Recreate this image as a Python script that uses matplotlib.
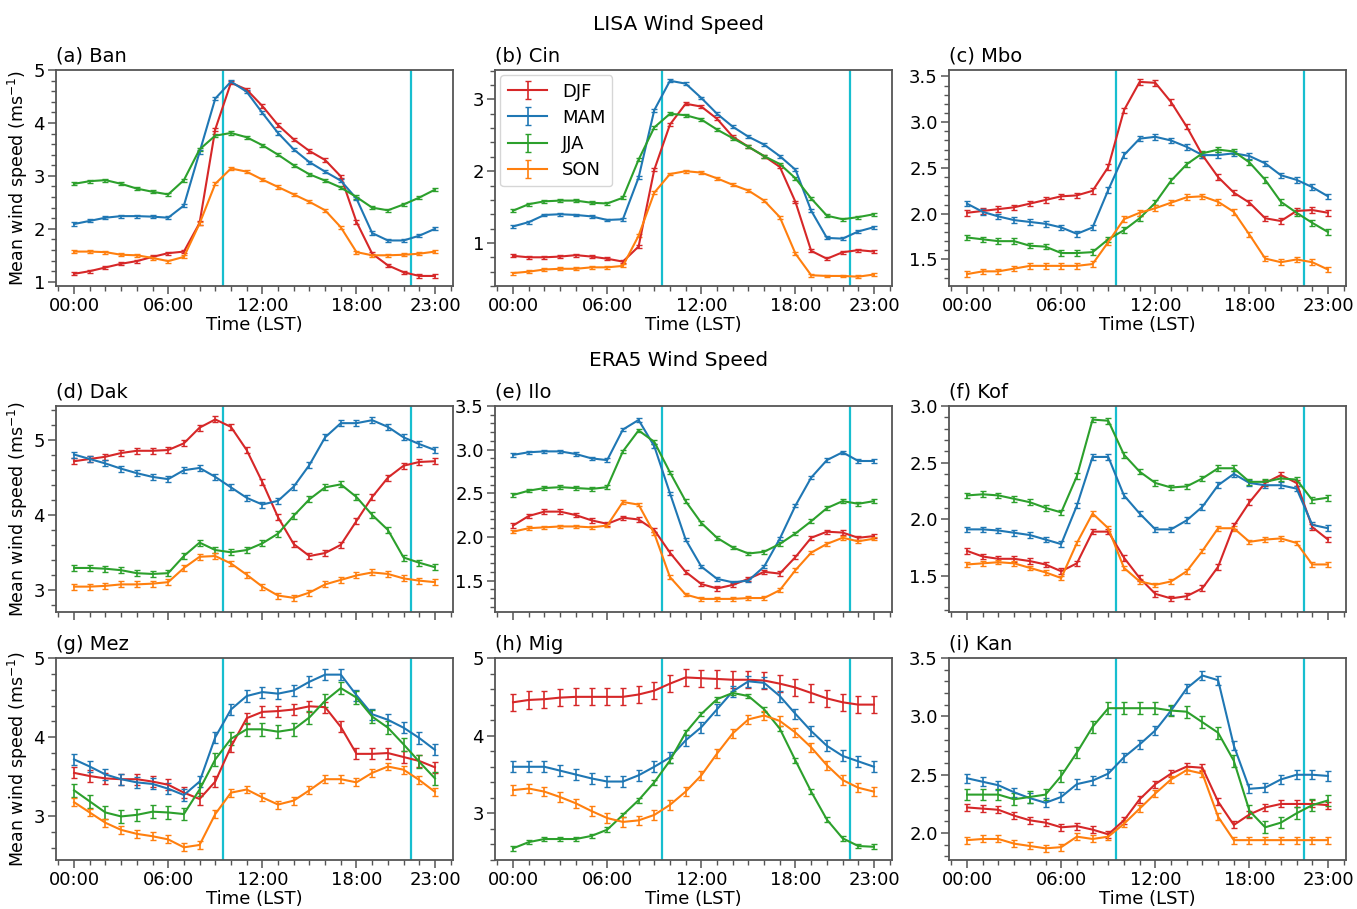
import matplotlib
matplotlib.use('agg')
import matplotlib.pyplot as plt
from matplotlib.ticker import AutoMinorLocator, FixedLocator, MultipleLocator

hours = list(range(24))
hour_ticks = [0, 6, 12, 18, 23]
hour_labels = ['00:00', '06:00', '12:00', '18:00', '23:00']
seasons = ['DJF', 'MAM', 'JJA', 'SON']
colors = ['#d62728', '#1f77b4', '#2ca02c', '#ff7f0e']
day_marks = [9.5, 21.5]

# (a) Ban - LISA
ban_djf = [1.15, 1.20, 1.27, 1.34, 1.39, 1.47, 1.54, 1.57, 2.11, 3.88, 4.76, 4.63,
           4.32, 3.96, 3.69, 3.47, 3.30, 2.99, 2.13, 1.53, 1.31, 1.18, 1.11, 1.11]
ban_mam = [2.09, 2.15, 2.21, 2.24, 2.24, 2.23, 2.21, 2.44, 3.45, 4.46, 4.78, 4.59,
           4.19, 3.81, 3.50, 3.26, 3.08, 2.91, 2.57, 1.92, 1.78, 1.78, 1.87, 2.00]
ban_jja = [2.85, 2.90, 2.92, 2.85, 2.76, 2.70, 2.65, 2.92, 3.50, 3.76, 3.81, 3.73,
           3.58, 3.40, 3.20, 3.03, 2.91, 2.78, 2.60, 2.40, 2.35, 2.46, 2.59, 2.74]
ban_son = [1.57, 1.57, 1.56, 1.51, 1.50, 1.45, 1.39, 1.47, 2.10, 2.85, 3.14, 3.08,
           2.93, 2.79, 2.65, 2.51, 2.35, 2.03, 1.56, 1.50, 1.50, 1.51, 1.53, 1.57]
ban_err = [0.03, 0.03, 0.03, 0.03]

# (b) Cin - LISA
cin_djf = [0.82, 0.80, 0.80, 0.81, 0.83, 0.81, 0.78, 0.74, 0.95, 2.02, 2.65, 2.94,
           2.90, 2.73, 2.48, 2.34, 2.21, 2.06, 1.57, 0.89, 0.78, 0.87, 0.90, 0.88]
cin_mam = [1.23, 1.29, 1.39, 1.40, 1.39, 1.37, 1.32, 1.33, 1.91, 2.85, 3.26, 3.22,
           3.02, 2.80, 2.62, 2.48, 2.37, 2.21, 2.02, 1.45, 1.07, 1.06, 1.16, 1.22]
cin_jja = [1.45, 1.54, 1.58, 1.59, 1.59, 1.56, 1.55, 1.63, 2.16, 2.61, 2.80, 2.78,
           2.72, 2.58, 2.46, 2.34, 2.21, 2.10, 1.90, 1.62, 1.38, 1.33, 1.36, 1.40]
cin_son = [0.58, 0.60, 0.63, 0.64, 0.64, 0.66, 0.66, 0.68, 1.10, 1.70, 1.96, 2.00,
           1.98, 1.90, 1.81, 1.73, 1.59, 1.36, 0.85, 0.55, 0.54, 0.54, 0.53, 0.56]
cin_err = [0.02, 0.02, 0.02, 0.02]

# (c) Mbo - LISA
mbo_djf = [2.01, 2.03, 2.05, 2.07, 2.11, 2.15, 2.19, 2.20, 2.25, 2.51, 3.13, 3.44,
           3.43, 3.22, 2.95, 2.64, 2.40, 2.23, 2.12, 1.95, 1.92, 2.03, 2.04, 2.01]
mbo_mam = [2.11, 2.02, 1.97, 1.93, 1.91, 1.89, 1.85, 1.78, 1.85, 2.26, 2.64, 2.82,
           2.84, 2.80, 2.73, 2.64, 2.64, 2.66, 2.63, 2.55, 2.42, 2.37, 2.29, 2.19]
mbo_jja = [1.74, 1.72, 1.70, 1.70, 1.65, 1.64, 1.57, 1.57, 1.58, 1.72, 1.82, 1.95,
           2.12, 2.36, 2.54, 2.66, 2.70, 2.68, 2.56, 2.37, 2.13, 2.01, 1.90, 1.80]
mbo_son = [1.34, 1.37, 1.37, 1.40, 1.43, 1.43, 1.43, 1.43, 1.45, 1.69, 1.94, 2.01,
           2.06, 2.12, 2.18, 2.19, 2.13, 2.02, 1.77, 1.51, 1.47, 1.50, 1.47, 1.39]
mbo_err = [0.03, 0.03, 0.03, 0.03]

# (d) Dak - ERA5
dak_djf = [4.72, 4.75, 4.78, 4.83, 4.86, 4.86, 4.87, 4.96, 5.17, 5.28, 5.18, 4.87,
           4.44, 3.97, 3.61, 3.45, 3.49, 3.60, 3.92, 4.24, 4.50, 4.66, 4.71, 4.72]
dak_mam = [4.81, 4.75, 4.69, 4.62, 4.56, 4.51, 4.48, 4.60, 4.63, 4.51, 4.37, 4.23,
           4.14, 4.19, 4.38, 4.67, 5.04, 5.23, 5.23, 5.27, 5.18, 5.04, 4.95, 4.87]
dak_jja = [3.29, 3.29, 3.28, 3.26, 3.22, 3.21, 3.22, 3.45, 3.63, 3.53, 3.50, 3.53,
           3.62, 3.75, 3.99, 4.21, 4.37, 4.41, 4.24, 4.00, 3.80, 3.43, 3.36, 3.30]
dak_son = [3.04, 3.04, 3.05, 3.07, 3.07, 3.08, 3.10, 3.29, 3.44, 3.45, 3.35, 3.20,
           3.04, 2.92, 2.89, 2.96, 3.07, 3.13, 3.19, 3.23, 3.21, 3.15, 3.12, 3.10]
dak_err = [0.04, 0.04, 0.04, 0.04]

# (e) Ilo - ERA5
ilo_djf = [2.13, 2.24, 2.29, 2.29, 2.25, 2.19, 2.15, 2.22, 2.20, 2.08, 1.82, 1.60,
           1.46, 1.41, 1.45, 1.52, 1.60, 1.58, 1.77, 1.99, 2.06, 2.05, 1.99, 2.01]
ilo_mam = [2.94, 2.97, 2.98, 2.98, 2.95, 2.90, 2.88, 3.23, 3.34, 3.04, 2.50, 1.97,
           1.66, 1.52, 1.48, 1.50, 1.66, 1.98, 2.36, 2.68, 2.88, 2.97, 2.87, 2.87]
ilo_jja = [2.48, 2.53, 2.56, 2.57, 2.56, 2.55, 2.57, 2.98, 3.22, 3.09, 2.74, 2.41,
           2.16, 1.99, 1.88, 1.81, 1.83, 1.92, 2.04, 2.18, 2.33, 2.41, 2.38, 2.41]
ilo_son = [2.06, 2.10, 2.11, 2.12, 2.12, 2.11, 2.13, 2.40, 2.37, 2.04, 1.54, 1.34,
           1.29, 1.29, 1.29, 1.30, 1.30, 1.39, 1.62, 1.82, 1.92, 1.99, 1.95, 1.98]
ilo_err = [0.025, 0.02, 0.02, 0.02]

# (f) Kof - ERA5
kof_djf = [1.72, 1.67, 1.65, 1.65, 1.63, 1.60, 1.54, 1.61, 1.89, 1.89, 1.66, 1.48,
           1.34, 1.30, 1.32, 1.39, 1.58, 1.94, 2.15, 2.32, 2.39, 2.32, 1.93, 1.82]
kof_mam = [1.91, 1.91, 1.90, 1.88, 1.86, 1.82, 1.78, 2.12, 2.55, 2.55, 2.21, 2.05,
           1.91, 1.91, 1.99, 2.11, 2.30, 2.40, 2.32, 2.30, 2.30, 2.27, 1.95, 1.92]
kof_jja = [2.21, 2.22, 2.21, 2.18, 2.15, 2.10, 2.06, 2.38, 2.88, 2.87, 2.57, 2.42,
           2.32, 2.28, 2.29, 2.36, 2.45, 2.45, 2.33, 2.33, 2.36, 2.35, 2.17, 2.19]
kof_son = [1.60, 1.61, 1.62, 1.61, 1.57, 1.53, 1.48, 1.79, 2.05, 1.92, 1.57, 1.45,
           1.42, 1.45, 1.54, 1.72, 1.92, 1.92, 1.80, 1.82, 1.83, 1.79, 1.60, 1.60]
kof_err = [0.025, 0.025, 0.025, 0.02]

# (g) Mez - ERA5
mez_djf = [3.55, 3.51, 3.48, 3.47, 3.47, 3.44, 3.40, 3.30, 3.22, 3.44, 3.88, 4.24,
           4.32, 4.33, 4.35, 4.39, 4.38, 4.13, 3.79, 3.79, 3.80, 3.75, 3.70, 3.62]
mez_mam = [3.72, 3.63, 3.53, 3.47, 3.43, 3.41, 3.35, 3.27, 3.44, 4.00, 4.35, 4.52,
           4.57, 4.55, 4.59, 4.70, 4.79, 4.79, 4.53, 4.29, 4.22, 4.12, 3.99, 3.84]
mez_jja = [3.33, 3.19, 3.05, 3.00, 3.02, 3.06, 3.05, 3.03, 3.34, 3.72, 3.98, 4.10,
           4.10, 4.07, 4.10, 4.25, 4.46, 4.62, 4.50, 4.26, 4.12, 3.91, 3.69, 3.48]
mez_son = [3.18, 3.05, 2.92, 2.83, 2.78, 2.75, 2.71, 2.61, 2.64, 3.03, 3.30, 3.34,
           3.24, 3.15, 3.20, 3.33, 3.47, 3.47, 3.43, 3.55, 3.63, 3.59, 3.46, 3.31]
mez_err = [0.07, 0.07, 0.08, 0.05]

# (h) Mig - ERA5
mig_djf = [4.43, 4.46, 4.47, 4.49, 4.50, 4.50, 4.50, 4.50, 4.53, 4.58, 4.67, 4.75,
           4.74, 4.73, 4.72, 4.72, 4.71, 4.67, 4.62, 4.55, 4.48, 4.43, 4.40, 4.40]
mig_mam = [3.60, 3.60, 3.60, 3.55, 3.50, 3.45, 3.41, 3.41, 3.49, 3.60, 3.72, 3.94,
           4.11, 4.34, 4.57, 4.70, 4.68, 4.51, 4.28, 4.06, 3.87, 3.74, 3.67, 3.60]
mig_jja = [2.55, 2.63, 2.67, 2.67, 2.67, 2.71, 2.79, 2.98, 3.17, 3.40, 3.68, 4.04,
           4.28, 4.47, 4.55, 4.51, 4.34, 4.09, 3.68, 3.28, 2.92, 2.68, 2.58, 2.57]
mig_son = [3.30, 3.32, 3.28, 3.21, 3.13, 3.03, 2.94, 2.89, 2.91, 2.98, 3.11, 3.28,
           3.49, 3.77, 4.03, 4.21, 4.26, 4.19, 4.04, 3.85, 3.62, 3.43, 3.33, 3.28]
mig_err = [0.11, 0.07, 0.03, 0.06]

# (i) Kan - ERA5
kan_djf = [2.22, 2.21, 2.20, 2.15, 2.11, 2.09, 2.05, 2.06, 2.03, 1.99, 2.11, 2.29,
           2.42, 2.51, 2.57, 2.56, 2.27, 2.07, 2.16, 2.22, 2.25, 2.25, 2.25, 2.24]
kan_mam = [2.47, 2.44, 2.41, 2.35, 2.30, 2.26, 2.31, 2.42, 2.45, 2.51, 2.65, 2.76,
           2.88, 3.05, 3.24, 3.35, 3.31, 2.75, 2.38, 2.39, 2.46, 2.50, 2.50, 2.49]
kan_jja = [2.33, 2.33, 2.33, 2.29, 2.31, 2.33, 2.49, 2.69, 2.91, 3.07, 3.07, 3.07,
           3.07, 3.05, 3.04, 2.95, 2.86, 2.62, 2.19, 2.05, 2.09, 2.17, 2.24, 2.28]
kan_son = [1.94, 1.95, 1.95, 1.91, 1.89, 1.87, 1.88, 1.97, 1.95, 1.97, 2.08, 2.21,
           2.34, 2.46, 2.54, 2.51, 2.14, 1.94, 1.94, 1.94, 1.94, 1.94, 1.94, 1.94]
kan_err = [0.03, 0.04, 0.05, 0.03]

titles = ['(a) Ban', '(b) Cin', '(c) Mbo', '(d) Dak', '(e) Ilo', '(f) Kof',
          '(g) Mez', '(h) Mig', '(i) Kan']
panel_series = [
    [ban_djf, ban_mam, ban_jja, ban_son], [cin_djf, cin_mam, cin_jja, cin_son],
    [mbo_djf, mbo_mam, mbo_jja, mbo_son], [dak_djf, dak_mam, dak_jja, dak_son],
    [ilo_djf, ilo_mam, ilo_jja, ilo_son], [kof_djf, kof_mam, kof_jja, kof_son],
    [mez_djf, mez_mam, mez_jja, mez_son], [mig_djf, mig_mam, mig_jja, mig_son],
    [kan_djf, kan_mam, kan_jja, kan_son],
]
panel_errs = [ban_err, cin_err, mbo_err, dak_err, ilo_err, kof_err, mez_err, mig_err, kan_err]
ylims = [(0.92, 5.0), (0.40, 3.41), (1.21, 3.57), (2.70, 5.46), (1.14, 3.5),
         (1.18, 3.0), (2.45, 5.0), (2.40, 5.0), (1.77, 3.5)]
yticks = [[1, 2, 3, 4, 5], [1, 2, 3], [1.5, 2.0, 2.5, 3.0, 3.5], [3, 4, 5],
          [1.5, 2.0, 2.5, 3.0, 3.5], [1.5, 2.0, 2.5, 3.0], [3, 4, 5], [3, 4, 5],
          [2.0, 2.5, 3.0, 3.5]]
ytick_fmt = ['%d', '%d', '%.1f', '%d', '%.1f', '%.1f', '%d', '%d', '%.1f']

W, H = 1357, 909
col_left = [56, 495, 949]
ax_w = 397
row_top = [70, 406, 658]
row_bot = [286, 612, 860]

plt.rcParams['font.family'] = 'DejaVu Sans'
fig = plt.figure(figsize=(W / 100, H / 100), dpi=100)
spine_col = '#555555'

for i in range(9):
    r, c = divmod(i, 3)
    ax = fig.add_axes([col_left[c] / W, 1 - row_bot[r] / H, ax_w / W,
                       (row_bot[r] - row_top[r]) / H])
    for k in range(4):
        ax.errorbar(hours, panel_series[i][k], yerr=panel_errs[i][k], color=colors[k],
                    lw=1.5, elinewidth=1.2, capsize=2.5, capthick=1.0, label=seasons[k])
    for xm in day_marks:
        ax.axvline(xm, color='#17becf', lw=1.6)

    ax.set_xlim(-1.15, 24.15)
    ax.set_ylim(*ylims[i])
    ax.xaxis.set_major_locator(FixedLocator(hour_ticks))
    ax.xaxis.set_minor_locator(MultipleLocator(1))
    ax.yaxis.set_major_locator(FixedLocator(yticks[i]))
    ax.yaxis.set_minor_locator(AutoMinorLocator(5))
    ax.set_yticklabels([ytick_fmt[i] % v for v in yticks[i]])
    if r == 1:
        ax.set_xticklabels([])
    else:
        ax.set_xticklabels(hour_labels)
        ax.set_xlabel('Time (LST)', fontsize=13, labelpad=1)
    ax.tick_params(which='major', length=6, width=1.1, color=spine_col, labelsize=13, pad=2)
    ax.tick_params(which='minor', length=3.5, width=1.0, color=spine_col)
    for sp in ax.spines.values():
        sp.set_color(spine_col)
        sp.set_linewidth(1.3)
    ax.set_title(titles[i], loc='left', fontsize=14, pad=6)
    if c == 0:
        ax.set_ylabel('Mean wind speed (ms$^{-1}$)', fontsize=12.5)
        ax.yaxis.set_label_coords(-0.066, 0.5)
    if i == 1:
        ax.legend(loc='upper left', fontsize=13, handlelength=2.2, borderaxespad=0.3,
                  labelspacing=0.45)

fig.text(0.5, 1 - 25 / H, 'LISA Wind Speed', ha='center', va='center', fontsize=14.5)
fig.text(0.5, 1 - 361 / H, 'ERA5 Wind Speed', ha='center', va='center', fontsize=14.5)

fig.savefig('out.png', dpi=100)
